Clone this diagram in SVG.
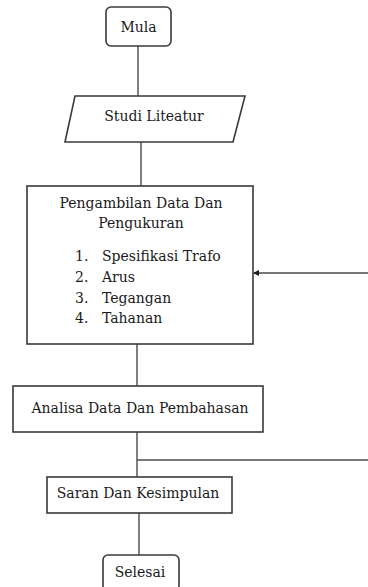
<svg xmlns="http://www.w3.org/2000/svg" width="368" height="587" viewBox="0 0 368 587">
<defs>
<style>
.box{fill:#fff;stroke:#3a3a3a;stroke-width:1.6}
.ln{fill:none;stroke:#4a4a4a;stroke-width:1.4}
.t{font-family:'DejaVu Serif',serif;font-size:14px;fill:#1a1a1a}
.c{text-anchor:middle}
</style>
<marker id="ah" markerWidth="6" markerHeight="6" refX="5" refY="3" orient="auto" markerUnits="userSpaceOnUse">
<path d="M0,0 L6,3 L0,6 Z" fill="#1a1a1a"/>
</marker>
</defs>
<rect width="368" height="587" fill="#fff"/>
<g id="connectors">
<line class="ln" x1="138" y1="46" x2="138" y2="96"/>
<line class="ln" x1="141" y1="142" x2="141" y2="186"/>
<line class="ln" x1="137" y1="344" x2="137" y2="386"/>
<line class="ln" x1="137" y1="432" x2="137" y2="477"/>
<line class="ln" x1="137" y1="460" x2="368" y2="460"/>
<line class="ln" x1="368" y1="273" x2="254" y2="273" marker-end="url(#ah)"/>
<line class="ln" x1="139" y1="513" x2="139" y2="555"/>
</g>
<g id="mula">
<rect class="box" x="106" y="7" width="65" height="39" rx="5"/>
<text class="t c" x="138.5" y="32">Mula</text>
</g>
<g id="studi">
<polygon class="box" points="75,96 245,96 233,142 65,142"/>
<text class="t c" x="154" y="121">Studi Liteatur</text>
</g>
<g id="pengambilan">
<rect class="box" x="27" y="186" width="226" height="158"/>
<text class="t c" x="141" y="208">Pengambilan Data Dan</text>
<text class="t c" x="141" y="228">Pengukuran</text>
<text class="t" x="75" y="261">1.</text><text class="t" x="102" y="261">Spesifikasi Trafo</text>
<text class="t" x="75" y="282">2.</text><text class="t" x="102" y="282">Arus</text>
<text class="t" x="75" y="303">3.</text><text class="t" x="102" y="303">Tegangan</text>
<text class="t" x="75" y="323">4.</text><text class="t" x="102" y="323">Tahanan</text>
</g>
<g id="analisa">
<rect class="box" x="13" y="386" width="250" height="46"/>
<text class="t c" x="140" y="413">Analisa Data Dan Pembahasan</text>
</g>
<g id="saran">
<rect class="box" x="47" y="477" width="185" height="36"/>
<text class="t c" x="138" y="498">Saran Dan Kesimpulan</text>
</g>
<g id="selesai">
<rect class="box" x="103" y="555" width="76" height="36" rx="5"/>
<text class="t c" x="140" y="577">Selesai</text>
</g>
</svg>
